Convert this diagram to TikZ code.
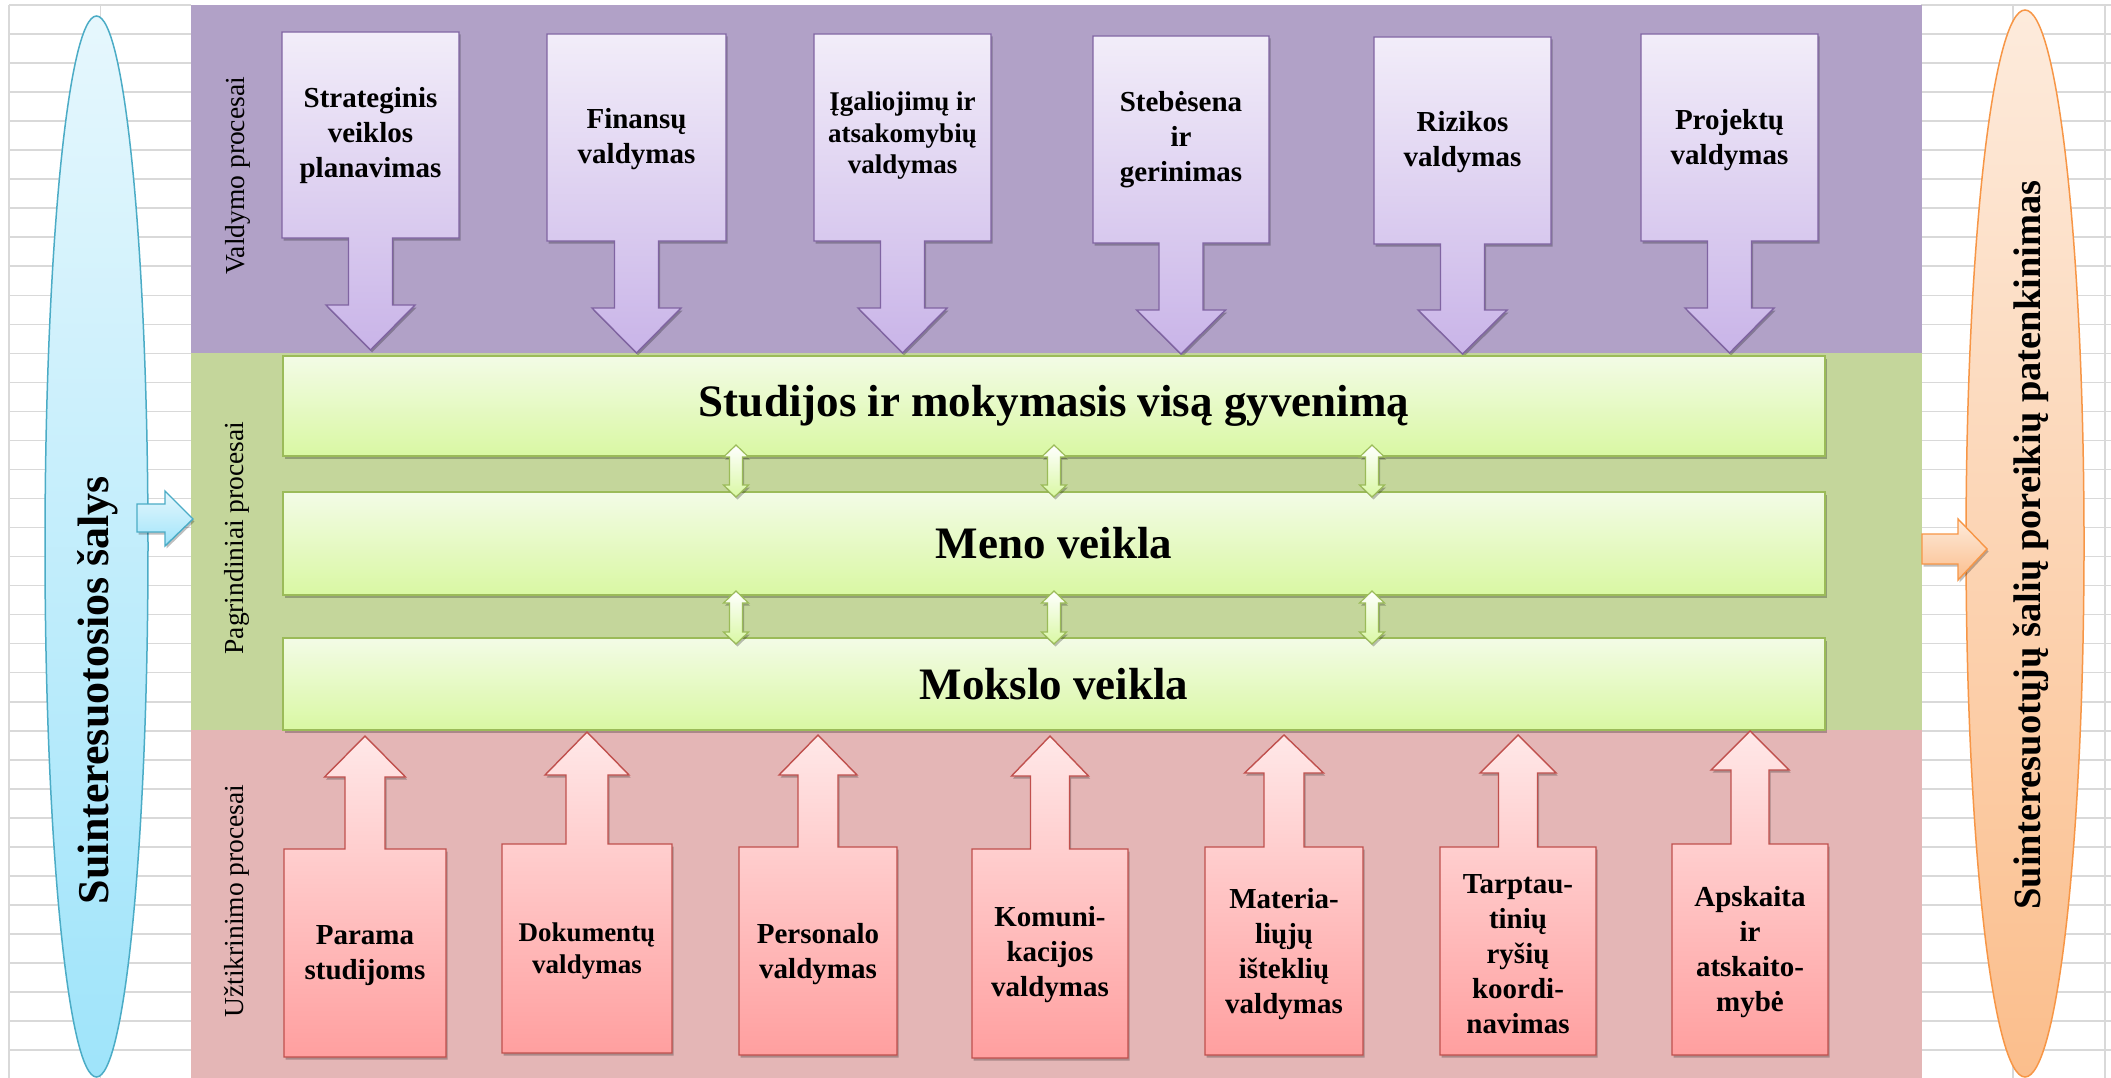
\documentclass[tikz,border=0pt]{standalone}
\usepackage{fontspec}
\setmainfont{Liberation Serif}
\usetikzlibrary{shadows}
\definecolor{gridc}{HTML}{D9D9D9}
\definecolor{bandP}{HTML}{B1A1C7}
\definecolor{bandG}{HTML}{C4D69B}
\definecolor{bandR}{HTML}{E4B6B6}
\definecolor{purpL}{HTML}{F2EDF9}
\definecolor{purpD}{HTML}{C9B4E8}
\definecolor{purpO}{HTML}{8064A2}
\definecolor{grnL}{HTML}{F3FBE6}
\definecolor{grnD}{HTML}{D9F8A3}
\definecolor{grnO}{HTML}{9BBB59}
\definecolor{redL}{HTML}{FFE8E8}
\definecolor{redD}{HTML}{FF9F9F}
\definecolor{redO}{HTML}{C0504D}
\definecolor{bluL}{HTML}{E6F7FD}
\definecolor{bluD}{HTML}{9FE4FA}
\definecolor{bluO}{HTML}{4BACC6}
\definecolor{orL}{HTML}{FDEBDC}
\definecolor{orD}{HTML}{FBBE8C}
\definecolor{orO}{HTML}{F79646}
\tikzset{
  gridline/.style={draw=gridc, line width=1.6},
  softshadow/.style={drop shadow={shadow xshift=1.5pt, shadow yshift=-2.5pt, opacity=0.25, fill=black}},
  purpshape/.style={draw=purpO, line width=1.4, top color=purpL, bottom color=purpD, softshadow},
  redshape/.style={draw=redO, line width=1.4, top color=redL, bottom color=redD, softshadow},
  greenbar/.style={draw=grnO, line width=1.4, top color=grnL, bottom color=grnD, softshadow,
     minimum width=1542, minimum height=#1, inner sep=0},
  dblarrow/.style={draw=grnO, line width=1.2, top color=white, bottom color=grnD, softshadow},
  boxtext/.style={align=center, inner sep=0, font=\fontsize{29}{35}\selectfont\bfseries},
  smalltext/.style={align=center, inner sep=0, font=\fontsize{27}{31.5}\selectfont\bfseries},
  bartext/.style={inner sep=0, font=\fontsize{45}{50}\selectfont\bfseries},
  bandlabel/.style={rotate=90, inner sep=0, font=\fontsize{27.5}{30}\selectfont},
}
% down callout: #1 L, #2 T, #3 R, #4 B, #5 head base, #6 tip, #7 shaft half, #8 head half
\newcommand{\CallDown}[8]{%
  \pgfmathsetmacro\cxx{(#1+#3)/2}%
  \path[purpshape] (#1,#2) -- (#3,#2) -- (#3,#4) -- (\cxx+#7,#4) -- (\cxx+#7,#5) -- (\cxx+#8,#5)
     -- (\cxx,#6) -- (\cxx-#8,#5) -- (\cxx-#7,#5) -- (\cxx-#7,#4) -- (#1,#4) -- cycle;}
% up callout
\newcommand{\CallUp}[8]{%
  \pgfmathsetmacro\cxx{(#1+#3)/2}%
  \path[redshape] (#1,#4) -- (#3,#4) -- (#3,#2) -- (\cxx+#7,#2) -- (\cxx+#7,#5) -- (\cxx+#8,#5)
     -- (\cxx,#6) -- (\cxx-#8,#5) -- (\cxx-#7,#5) -- (\cxx-#7,#2) -- (#1,#2) -- cycle;}
% double vertical arrow: #1 cx, #2 top, #3 bottom
\newcommand{\DblArrow}[3]{%
  \path[dblarrow] (#1,#2) -- (#1+12.5,#2+12) -- (#1+6.5,#2+12) -- (#1+6.5,#3-12) -- (#1+12.5,#3-12)
     -- (#1,#3) -- (#1-12.5,#3-12) -- (#1-6.5,#3-12) -- (#1-6.5,#2+12) -- (#1-12.5,#2+12) -- cycle;}
\begin{document}
\begin{tikzpicture}[x=1pt,y=-1pt]
\useasboundingbox (0,0) rectangle (2111,1078);
\fill[white] (0,0) rectangle (2111,1078);
% spreadsheet grid
\foreach \k in {0,...,36} {
  \pgfmathsetmacro\yy{5+\k*29.03}
  \draw[gridline] (9,\yy) -- (191,\yy);
  \draw[gridline] (1921,\yy) -- (2111,\yy);
}
\foreach \xx in {9,100.5,2013,2105} {\draw[gridline] (\xx,5) -- (\xx,1078);}
% bands
\fill[bandP] (191,5) rectangle (1922,353);
\fill[bandG] (191,353) rectangle (1922,730);
\fill[bandR] (191,730) rectangle (1922,1078);
\node[bandlabel] (lblV) at (238,176) {Valdymo procesai};
\node[bandlabel] (lblP) at (237,538) {Pagrindiniai procesai};
\node[bandlabel] (lblU) at (237,901) {Užtikrinimo procesai};
% left ellipse
\draw[draw=bluO, line width=1.5, top color=bluL, bottom color=bluD] (96.5,546.5) ellipse [x radius=51.5, y radius=530.5];
\node[rotate=90, inner sep=0, font=\fontsize{44}{50}\selectfont\bfseries] (stake) at (98,690) {Suinteresuotosios šalys};
\path[draw=bluO, line width=1.4, top color=bluL, bottom color=bluD, softshadow]
  (137,504) -- (165,504) -- (165,491) -- (193,519) -- (165,546) -- (165,532) -- (137,532) -- cycle;
% right ellipse
\draw[draw=orO, line width=1.5, top color=orL, bottom color=orD] (2025,543.5) ellipse [x radius=59, y radius=533.5];
\node[rotate=90, inner sep=0, font=\fontsize{38.5}{44}\selectfont\bfseries] (satis) at (2031,545) {Suinteresuotųjų šalių poreikių patenkinimas};
\path[draw=orO, line width=1.4, top color=orL, bottom color=orD, softshadow]
  (1922,534) -- (1958,534) -- (1958,519) -- (1987,549) -- (1958,580) -- (1958,564) -- (1922,564) -- cycle;
% management processes
\CallDown{282}{32}{459}{238}{305}{350}{22}{44.5}
\CallDown{547}{34}{726}{241}{308}{353}{22}{44.5}
\CallDown{814}{34}{991}{241}{308}{353}{22}{44.5}
\CallDown{1093}{36}{1269}{243}{310}{354}{22}{44.5}
\CallDown{1374}{37}{1551}{244}{310}{354}{22}{44.5}
\CallDown{1641}{34}{1818}{241}{308}{353}{22}{44.5}
\node[boxtext] (v1) at (370.5,136) {Strateginis\\veiklos\\planavimas};
\node[boxtext] (v2) at (636.5,139) {Finansų\\valdymas};
\node[smalltext] (v3) at (902.5,136) {Įgaliojimų ir\\atsakomybių\\valdymas};
\node[boxtext] (v4) at (1181,140) {Stebėsena\\ir\\gerinimas};
\node[boxtext] (v5) at (1462.5,142) {Rizikos\\valdymas};
\node[boxtext] (v6) at (1729.5,140) {Projektų\\valdymas};
% core processes
\node[greenbar=100] (bar1) at (1054,406) {};
\node[greenbar=103] (bar2) at (1054,543.5) {};
\node[greenbar=92] (bar3) at (1054,684) {};
\node[bartext] (t1) at (bar1.center) {Studijos ir mokymasis visą gyvenimą};
\node[bartext] (t2) at (bar2.center) {Meno veikla};
\node[bartext] (t3) at (bar3.center) {Mokslo veikla};
\DblArrow{736}{445}{497}
\DblArrow{1054}{445}{497}
\DblArrow{1372}{445}{497}
\DblArrow{736}{591}{644}
\DblArrow{1054}{591}{644}
\DblArrow{1372}{591}{644}
% support processes
\CallUp{284}{849}{446}{1057}{777}{736}{20}{40.5}
\CallUp{502}{844}{672}{1053}{775}{732}{21}{42}
\CallUp{739}{847}{897}{1055}{775}{735}{20}{39}
\CallUp{972}{849}{1128}{1058}{776}{736}{19.5}{38.5}
\CallUp{1205}{847}{1363}{1055}{773}{735}{20}{39.5}
\CallUp{1440}{847}{1596}{1055}{773}{735}{19.5}{38}
\CallUp{1672}{844}{1828}{1055}{770}{731}{19}{39}
\node[boxtext] (u1) at (365,956) {Parama\\studijoms};
\node[smalltext] (u2) at (587,951) {Dokumentų\\valdymas};
\node[boxtext] (u3) at (818,954) {Personalo\\valdymas};
\node[boxtext] (u4) at (1050,955) {Komuni-\\kacijos\\valdymas};
\node[boxtext] (u5) at (1284,954) {Materia-\\liųjų\\išteklių\\valdymas};
\node[boxtext] (u6) at (1518,954) {Tarptau-\\tinių\\ryšių\\koordi-\\navimas};
\node[boxtext] (u7) at (1750,952) {Apskaita\\ir\\atskaito-\\mybė};
\end{tikzpicture}
\end{document}
